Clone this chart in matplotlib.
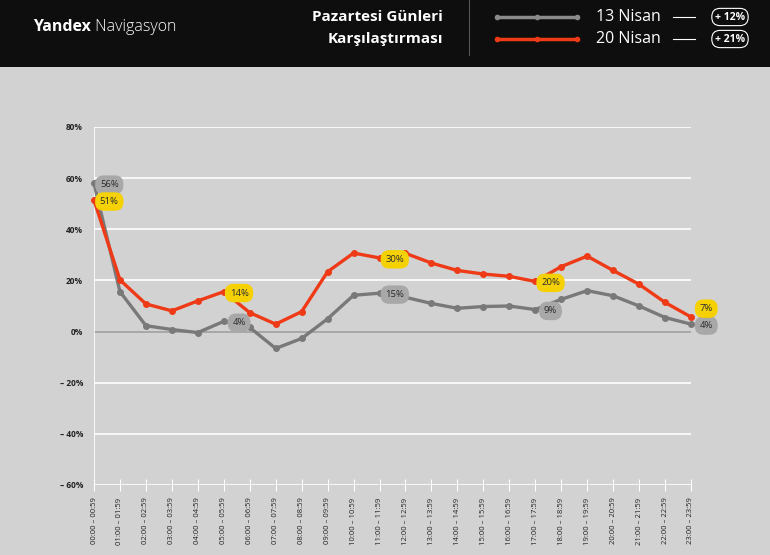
import matplotlib.pyplot as plt
from matplotlib.lines import Line2D
from matplotlib.patches import Rectangle
from matplotlib.text import Annotation

hours = [f"{h:02d}:00 – {h:02d}:59" for h in range(24)]

nisan13 = [58, 15.6, 2.3, 0.8, -0.4, 4.0, 1.6, -6.6, -2.7, 5.0, 14.2, 15.0,
           13.4, 11.0, 9.1, 9.8, 10.0, 8.6, 12.6, 16.0, 14.0, 10.0, 5.5, 2.9]
nisan20 = [51.4, 20.2, 10.8, 8.1, 12.0, 15.6, 7.4, 2.9, 7.8, 23.4, 30.7, 28.8,
           30.6, 26.8, 23.9, 22.5, 21.6, 19.6, 25.4, 29.5, 23.9, 18.5, 11.4, 5.7]

badge_idx = [0, 5, 11, 17, 23]
badge13 = ['56%', '4%', '15%', '9%', '4%']
badge20 = ['51%', '14%', '30%', '20%', '7%']

yticks = [80, 60, 40, 20, 0, -20, -40, -60]
ytick_labels = ['80%', '60%', '40%', '20%', '0%', '– 20%', '– 40%', '– 60%']

BG = '#d2d2d2'
GRAY = '#797979'
RED = '#ee3a16'
YELLOW = '#f6d100'
GRAYBADGE = '#a8a8a8'

plt.rcParams['font.family'] = ['Open Sans', 'DejaVu Sans']

fig = plt.figure(figsize=(7.7, 5.55), dpi=100)
fig.patch.set_facecolor(BG)
W, H = 770, 555

def fx(px):
  return px / W

def fy(py):
  return 1 - py / H

# header band
fig.patches.append(Rectangle((0, fy(67)), 1, 67 / H, transform=fig.transFigure,
                             facecolor='#0e0e0e', edgecolor='none', zorder=0))
t1 = fig.text(fx(33), fy(27), 'Yandex', color='white', fontsize=11.5,
              fontweight='bold', va='center', ha='left')
fig.add_artist(Annotation(' Navigasyon', xy=(1, 0.5), xycoords=t1, va='center',
                          ha='left', color='white', fontsize=11.5,
                          fontweight='light'))

fig.text(fx(443), fy(17), 'Pazartesi Günleri', color='white', fontsize=11,
         fontweight='bold', ha='right', va='center')
fig.text(fx(443), fy(39), 'Karşılaştırması', color='white', fontsize=11,
         fontweight='bold', ha='right', va='center')
fig.add_artist(Line2D([fx(469), fx(469)], [fy(0), fy(55)], color='#555555',
                      lw=0.8, transform=fig.transFigure))

for yy, col, lab, pct in [(17, '#8a8a8a', '13 Nisan', '+ 12%'),
                          (39, RED, '20 Nisan', '+ 21%')]:
  fig.add_artist(Line2D([fx(497), fx(537), fx(577)], [fy(yy)] * 3, color=col,
                        lw=2.5, marker='o', markersize=3,
                        transform=fig.transFigure))
  fig.text(fx(596), fy(yy), lab, color='white', fontsize=11.5, va='center',
           ha='left')
  fig.add_artist(Line2D([fx(673), fx(695)], [fy(yy)] * 2, color='white',
                        lw=0.8, transform=fig.transFigure))
  fig.text(fx(730), fy(yy), pct, color='white', fontsize=7.5, fontweight='bold',
           va='center', ha='center',
           bbox=dict(boxstyle='round,pad=0.3,rounding_size=0.8',
                     facecolor='#0e0e0e', edgecolor='white', lw=0.8))

# plot area
ax = fig.add_axes([fx(94), fy(485), fx(691) - fx(94), fy(127) - fy(485)])
ax.set_facecolor(BG)
x = list(range(len(hours)))
ax.set_xlim(0, 23)
ax.set_ylim(-60, 80)
for s in ax.spines.values():
  s.set_visible(False)
for v in yticks:
  ax.axhline(v, color='#a0a0a0' if v == 0 else 'white', lw=1.2, zorder=1)
ax.axvline(0, color='white', lw=1.2, zorder=1)

ax.plot(x, nisan13, color=GRAY, lw=2.4, marker='o', markersize=4, zorder=3,
        clip_on=False)
ax.plot(x, nisan20, color=RED, lw=2.4, marker='o', markersize=4, zorder=4,
        clip_on=False)

# value badges
for i, l13, l20 in zip(badge_idx, badge13, badge20):
  off20 = 7 if i == 23 else 0
  ax.annotate(l13, (i, nisan13[i]), xytext=(11, -1), textcoords='offset points',
              ha='center', va='center', fontsize=6.8, color='#2a2a2a', zorder=5,
              bbox=dict(boxstyle='round,pad=0.5,rounding_size=0.9',
                        facecolor=GRAYBADGE, edgecolor='none'),
              annotation_clip=False)
  ax.annotate(l20, (i, nisan20[i]), xytext=(11, off20 - 1), textcoords='offset points',
              ha='center', va='center', fontsize=6.8, color='#2a2a2a', zorder=6,
              bbox=dict(boxstyle='round,pad=0.5,rounding_size=0.9',
                        facecolor=YELLOW, edgecolor='none'),
              annotation_clip=False)

ax.set_yticks(yticks)
ax.set_yticklabels(ytick_labels, fontsize=6, color='#222222', fontweight='bold')
ax.tick_params(axis='y', length=0, pad=8)
ax.set_xticks(x)
ax.set_xticklabels(hours, rotation=90, fontsize=5.5, color='#222222')
ax.tick_params(axis='x', length=8, direction='inout', color='white', width=0.8,
               pad=5)

fig.savefig('out.png', dpi=100, facecolor=BG)
